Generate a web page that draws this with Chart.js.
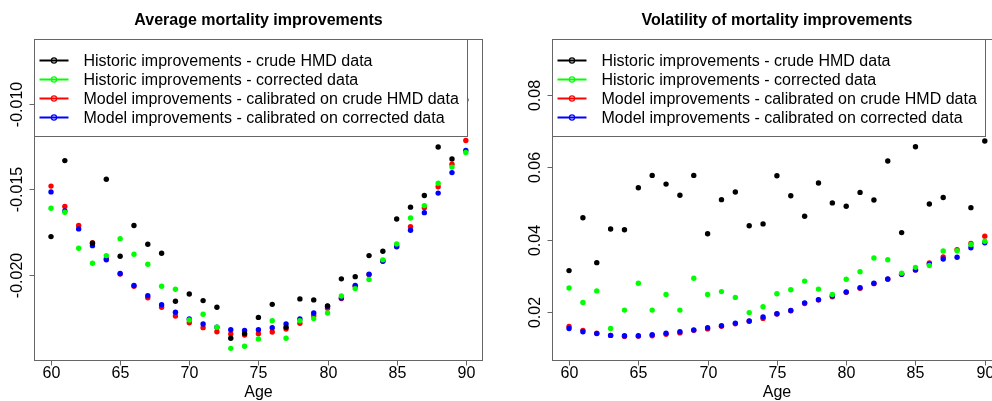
<!DOCTYPE html>
<html>
<head>
<meta charset="utf-8">
<script src="https://cdn.jsdelivr.net/npm/chart.js@4.4.1/dist/chart.umd.min.js"></script>
<style>
  html, body { margin: 0; padding: 0; background: #fff; overflow: hidden; }
  #wrap { position: relative; width: 992px; height: 401px; overflow: hidden; }
  canvas { position: absolute; top: 0; }
  #avgChart { left: 0; }
  #volChart { left: 496px; }
</style>
</head>
<body>
<div id="wrap">
  <canvas id="avgChart" width="496" height="401"></canvas>
  <canvas id="volChart" width="520" height="401"></canvas>
</div>
<script>
// ages 60..90
var ages = [60, 61, 62, 63, 64, 65, 66, 67, 68, 69, 70, 71, 72, 73, 74, 75,
            76, 77, 78, 79, 80, 81, 82, 83, 84, 85, 86, 87, 88, 89, 90];

// average mortality improvements
var avgCrude = [-0.01776, -0.01332, -0.01120, -0.01815, -0.01441, -0.01891, -0.01711, -0.01821,
                -0.01873, -0.02154, -0.02111, -0.02150, -0.02189, -0.02370, -0.02343, -0.02248,
                -0.02172, -0.02306, -0.02140, -0.02146, -0.02181, -0.02023, -0.02010, -0.01887,
                -0.01862, -0.01673, -0.01604, -0.01536, -0.01253, -0.01322, -0.00977];
var avgCorrected = [-0.01610, -0.01634, -0.01844, -0.01932, -0.01887, -0.01788, -0.01879, -0.01938,
                    -0.02066, -0.02084, -0.02263, -0.02230, -0.02306, -0.02429, -0.02417, -0.02374,
                    -0.02267, -0.02370, -0.02268, -0.02255, -0.02222, -0.02123, -0.02080, -0.02027,
                    -0.01912, -0.01819, -0.01667, -0.01595, -0.01464, -0.01370, -0.01285];
var avgModelCrude = [-0.01481, -0.01600, -0.01711, -0.01812, -0.01905, -0.01995, -0.02066, -0.02133,
                     -0.02189, -0.02240, -0.02279, -0.02308, -0.02332, -0.02345, -0.02351, -0.02343,
                     -0.02333, -0.02316, -0.02283, -0.02238, -0.02195, -0.02138, -0.02066, -0.01998,
                     -0.01918, -0.01832, -0.01718, -0.01608, -0.01485, -0.01353, -0.01215];
var avgModelCorrected = [-0.01515, -0.01626, -0.01731, -0.01829, -0.01912, -0.01992, -0.02062, -0.02121,
                         -0.02174, -0.02218, -0.02257, -0.02287, -0.02305, -0.02320, -0.02324, -0.02320,
                         -0.02308, -0.02287, -0.02257, -0.02222, -0.02183, -0.02135, -0.02062, -0.01996,
                         -0.01920, -0.01835, -0.01739, -0.01636, -0.01522, -0.01402, -0.01273];

// volatility of mortality improvements
var volCrude = [0.0315, 0.0461, 0.0337, 0.0430, 0.0428, 0.0544, 0.0578, 0.0554,
                0.0523, 0.0578, 0.0417, 0.0511, 0.0532, 0.0439, 0.0444, 0.0577,
                0.0522, 0.0465, 0.0557, 0.0502, 0.0493, 0.0531, 0.0510, 0.0618,
                0.0420, 0.0657, 0.0499, 0.0517, 0.0720, 0.0489, 0.0673];
var volCorrected = [0.0267, 0.0227, 0.0259, 0.0155, 0.0206, 0.0280, 0.0206, 0.0249,
                    0.0206, 0.0294, 0.0249, 0.0257, 0.0241, 0.0199, 0.0215, 0.0251,
                    0.0262, 0.0286, 0.0264, 0.0249, 0.0291, 0.0312, 0.0350, 0.0345,
                    0.0308, 0.0324, 0.0329, 0.0369, 0.0370, 0.0387, 0.0396];
var volModelCrude = [0.0161, 0.0150, 0.0142, 0.0136, 0.0133, 0.0134, 0.0135, 0.0139,
                     0.0143, 0.0150, 0.0154, 0.0161, 0.0168, 0.0175, 0.0183, 0.0195,
                     0.0204, 0.0224, 0.0234, 0.0243, 0.0255, 0.0266, 0.0279, 0.0291,
                     0.0305, 0.0317, 0.0336, 0.0353, 0.0373, 0.0390, 0.0410];
var volModelCorrected = [0.0155, 0.0146, 0.0141, 0.0136, 0.0135, 0.0135, 0.0138, 0.0142,
                         0.0146, 0.0151, 0.0157, 0.0163, 0.0170, 0.0176, 0.0187, 0.0196,
                         0.0205, 0.0226, 0.0235, 0.0245, 0.0256, 0.0268, 0.0280, 0.0292,
                         0.0305, 0.0317, 0.0333, 0.0347, 0.0352, 0.0378, 0.0392];

var seriesLabels = ['Historic improvements - crude HMD data',
                    'Historic improvements - corrected data',
                    'Model improvements - calibrated on crude HMD data',
                    'Model improvements - calibrated on corrected data'];
var seriesColors = ['#000000', '#00ff00', '#ff0000', '#0000ff'];

var xTicks = [60, 65, 70, 75, 80, 85, 90];
var avgTicks = [-0.020, -0.015, -0.010];
var volTicks = [0.02, 0.04, 0.06, 0.08];

var FONT = '"Liberation Sans", Arial, Helvetica, sans-serif';
var AXIS = '#666666';

function pts(ys) {
    return ages.map(function (a, i) { return { x: a, y: ys[i] }; });
}

// frame, ticks, labels and the boxed legend drawn R-style on top of the points
var rFrame = {
    id: 'rFrame',
    afterDatasetsDraw: function (chart, args, o) {
        var ctx = chart.ctx, a = chart.chartArea;
        var xs = chart.scales.x, ys = chart.scales.y;
        var L = Math.round(a.left) + 0.5, T = Math.round(a.top) + 0.5;
        var R = Math.round(a.right) + 0.5, B = Math.round(a.bottom) + 0.5;
        ctx.save();

        // legend box (white, hides points behind it)
        ctx.font = '16px ' + FONT;
        var tw = 0;
        seriesLabels.forEach(function (s) { tw = Math.max(tw, ctx.measureText(s).width); });
        var lw = Math.round(49 + tw + 9);
        ctx.fillStyle = '#fff';
        ctx.fillRect(L, T, lw, 97);
        ctx.strokeStyle = AXIS;
        ctx.lineWidth = 1;
        ctx.strokeRect(L, T, lw, 97);
        seriesLabels.forEach(function (s, i) {
            var yy = T + 21 + i * 19;
            ctx.strokeStyle = seriesColors[i];
            ctx.lineWidth = 2;
            ctx.beginPath();
            ctx.moveTo(L + 5, yy); ctx.lineTo(L + 34, yy);
            ctx.stroke();
            ctx.lineWidth = 1.2;
            ctx.beginPath();
            ctx.arc(L + 19.5, yy, 2.6, 0, Math.PI * 2);
            ctx.stroke();
            ctx.fillStyle = '#000';
            ctx.textAlign = 'left';
            ctx.textBaseline = 'middle';
            ctx.fillText(s, L + 49, yy + 1);
        });

        // plot frame
        ctx.strokeStyle = AXIS;
        ctx.lineWidth = 1;
        ctx.strokeRect(L, T, R - L, B - T);

        // x ticks and labels
        ctx.fillStyle = '#000';
        ctx.font = '16px ' + FONT;
        ctx.textAlign = 'center';
        ctx.textBaseline = 'middle';
        xTicks.forEach(function (v) {
            var px = Math.round(xs.getPixelForValue(v)) + 0.5;
            ctx.beginPath();
            ctx.moveTo(px, B); ctx.lineTo(px, B + 5);
            ctx.stroke();
            ctx.fillText(String(v), px, B + 13.5);
        });

        // y ticks and rotated labels
        o.yTicks.forEach(function (v) {
            var py = Math.round(ys.getPixelForValue(v)) + 0.5;
            ctx.beginPath();
            ctx.moveTo(L, py); ctx.lineTo(L - 5, py);
            ctx.stroke();
            ctx.save();
            ctx.translate(L - 17, py);
            ctx.rotate(-Math.PI / 2);
            ctx.fillText(v.toFixed(o.decimals), 0, 0);
            ctx.restore();
        });

        // axis title and main title
        ctx.fillText('Age', (L + R) / 2, B + 32.5);
        ctx.font = 'bold 16px ' + FONT;
        ctx.fillText(o.title, (L + R) / 2, 21);
        ctx.restore();
    }
};

function makeChart(id, series, yMin, yMax, yTicks, decimals, title, padding) {
    var order = [0, 1, 3, 2];
    var datasets = series.map(function (ys, i) {
        return {
            label: seriesLabels[i],
            data: pts(ys),
            backgroundColor: seriesColors[i],
            borderColor: seriesColors[i],
            borderWidth: 0,
            pointRadius: 2.7,
            pointHoverRadius: 2.7,
            showLine: false,
            order: order[i]
        };
    });
    return new Chart(document.getElementById(id).getContext('2d'), {
        type: 'scatter',
        data: { datasets: datasets },
        plugins: [rFrame],
        options: {
            responsive: false,
            animation: false,
            events: [],
            layout: { padding: padding },
            scales: {
                x: { type: 'linear', min: 58.77, max: 91.17, display: false },
                y: { type: 'linear', min: yMin, max: yMax, display: false }
            },
            plugins: {
                legend: { display: false },
                tooltip: { enabled: false },
                rFrame: { yTicks: yTicks, decimals: decimals, title: title }
            }
        }
    });
}

document.addEventListener('DOMContentLoaded', function () {
    makeChart('avgChart',
        [avgCrude, avgCorrected, avgModelCrude, avgModelCorrected],
        -0.02497, -0.006216, avgTicks, 3,
        'Average mortality improvements',
        { left: 34, top: 39, right: 14, bottom: 41 });

    makeChart('volChart',
        [volCrude, volCorrected, volModelCrude, volModelCorrected],
        0.00681, 0.09548, volTicks, 2,
        'Volatility of mortality improvements',
        { left: 56, top: 39, right: 15, bottom: 41 });
});
</script>
</body>
</html>
